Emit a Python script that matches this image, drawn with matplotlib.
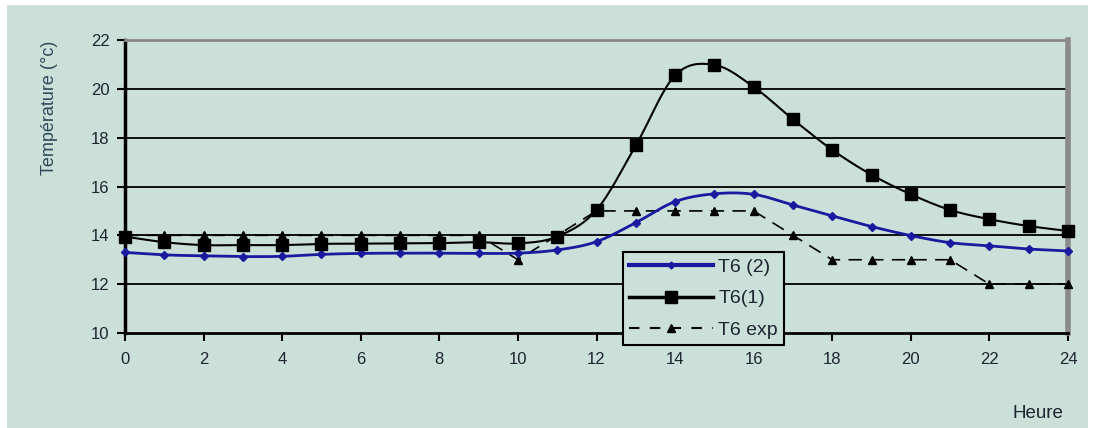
import numpy as np
import matplotlib
matplotlib.use("Agg")
import matplotlib.pyplot as plt
from matplotlib.patches import Rectangle
from matplotlib.lines import Line2D

# Hourly temperatures (°C)
hours = list(range(0, 25))
t6_model2 = [13.30, 13.20, 13.16, 13.13, 13.14, 13.22, 13.26, 13.27, 13.27, 13.26,
             13.27, 13.40, 13.74, 14.52, 15.38, 15.70, 15.68, 15.24, 14.80, 14.36,
             13.99, 13.70, 13.57, 13.44, 13.36]
t6_model1 = [13.95, 13.72, 13.60, 13.60, 13.60, 13.65, 13.66, 13.67, 13.68, 13.72,
             13.67, 13.95, 15.04, 17.68, 20.55, 20.98, 20.08, 18.75, 17.50, 16.48,
             15.68, 15.04, 14.66, 14.38, 14.18]
t6_exp = [14, 14, 14, 14, 14, 14, 14, 14, 14, 14,
          13, 14, 15, 15, 15, 15, 15, 14, 13, 13,
          13, 13, 12, 12, 12]
series_labels = ["T6 (2)", "T6(1)", "T6 exp"]
y_ticks = [10, 12, 14, 16, 18, 20, 22]
x_ticks = list(range(0, 25, 2))

BG = "#cae0d8"
TXT = "#1e2430"
BLUE = "#1a1aa0"
plt.rcParams["font.family"] = ["Liberation Sans", "DejaVu Sans"]


def smooth(x, y, n=20):
    """Smoothed curve through the points (cubic Bezier, Catmull-Rom style)."""
    x = np.asarray(x, float)
    y = np.asarray(y, float)
    px = np.concatenate([[x[0]], x, [x[-1]]])
    py = np.concatenate([[y[0]], y, [y[-1]]])
    t = np.linspace(0, 1, n)[:, None]
    xs, ys = [], []
    for i in range(1, len(px) - 2):
        p0 = np.array([px[i - 1], py[i - 1]])
        p1 = np.array([px[i], py[i]])
        p2 = np.array([px[i + 1], py[i + 1]])
        p3 = np.array([px[i + 2], py[i + 2]])
        c1 = p1 + (p2 - p0) / 6.0
        c2 = p2 - (p3 - p1) / 6.0
        pts = ((1 - t) ** 3) * p1 + 3 * ((1 - t) ** 2) * t * c1 \
            + 3 * (1 - t) * t ** 2 * c2 + t ** 3 * p2
        xs.append(pts[:, 0])
        ys.append(pts[:, 1])
    return np.concatenate(xs), np.concatenate(ys)


fig = plt.figure(figsize=(10.99, 4.28), dpi=100, facecolor="white")
fig.patches.append(Rectangle((7 / 1099, 0), (1088 - 7) / 1099, 1 - 5 / 428,
                             transform=fig.transFigure, facecolor=BG,
                             edgecolor="none", zorder=-10))

ax = fig.add_axes([125 / 1099, 1 - 333 / 428, 943 / 1099, 293 / 428])
ax.set_facecolor(BG)
ax.set_xlim(0, 24)
ax.set_ylim(10, 22)

for yv in y_ticks[1:-1]:
    ax.axhline(yv, color="black", lw=1.3, zorder=1)

# Experimental series: dashed, straight segments
ax.plot(hours, t6_exp, color="black", lw=1.2, dashes=(8, 5), zorder=3, clip_on=False)
ax.plot(hours, t6_exp, ls="none", marker="^", ms=6, color="black", zorder=3, clip_on=False)

# Model (2): blue smoothed line
sx, sy = smooth(hours, t6_model2)
ax.plot(sx, sy, color=BLUE, lw=2.0, zorder=4, clip_on=False)
ax.plot(hours, t6_model2, ls="none", marker="D", ms=4.5, color=BLUE, zorder=4, clip_on=False)

# Model (1): black smoothed line with squares
sx, sy = smooth(hours, t6_model1)
ax.plot(sx, sy, color="black", lw=1.5, zorder=5, clip_on=False)
ax.plot(hours, t6_model1, ls="none", marker="s", ms=8.5, color="black", zorder=5, clip_on=False)

# Spines
ax.spines["left"].set_color("black")
ax.spines["left"].set_linewidth(2.5)
ax.spines["bottom"].set_color("black")
ax.spines["bottom"].set_linewidth(2.0)
ax.spines["top"].set_color("#8a8a8a")
ax.spines["top"].set_linewidth(2.0)
ax.spines["right"].set_color("#8a8a8a")
ax.spines["right"].set_linewidth(4.0)

ax.set_yticks(y_ticks)
ax.set_xticks(x_ticks)
ax.tick_params(axis="both", direction="out", length=6, width=1.5, color="black",
               labelsize=12, labelcolor=TXT)
ax.tick_params(axis="y", pad=5)
ax.tick_params(axis="x", pad=8)

fig.text(50 / 1099, 1 - 108 / 428, "Température (°c)", rotation=90,
         ha="center", va="center", fontsize=13, color="#2e4a5a")
fig.text(1038 / 1099, 1 - 414 / 428, "Heure", ha="center", va="center",
         fontsize=13.5, color=TXT)

# Legend
handles = [
    Line2D([], [], color=BLUE, lw=3, marker="D", ms=3.5),
    Line2D([], [], color="black", lw=2.5, marker="s", ms=8),
    Line2D([], [], color="black", lw=1.5, dashes=(5, 5), marker="^", ms=6),
]
leg = fig.legend(handles, series_labels, loc="upper left",
                 bbox_to_anchor=(623 / 1099, 1 - 252 / 428),
                 bbox_transform=fig.transFigure, fontsize=14,
                 handlelength=4.3, handletextpad=0.28, labelspacing=0.72,
                 borderpad=0.32, borderaxespad=0, fancybox=False, framealpha=1,
                 facecolor=BG, edgecolor="black")
leg.get_frame().set_linewidth(1.5)
for t in leg.get_texts():
    t.set_color(TXT)

fig.savefig("out.png", dpi=100, facecolor="white")
